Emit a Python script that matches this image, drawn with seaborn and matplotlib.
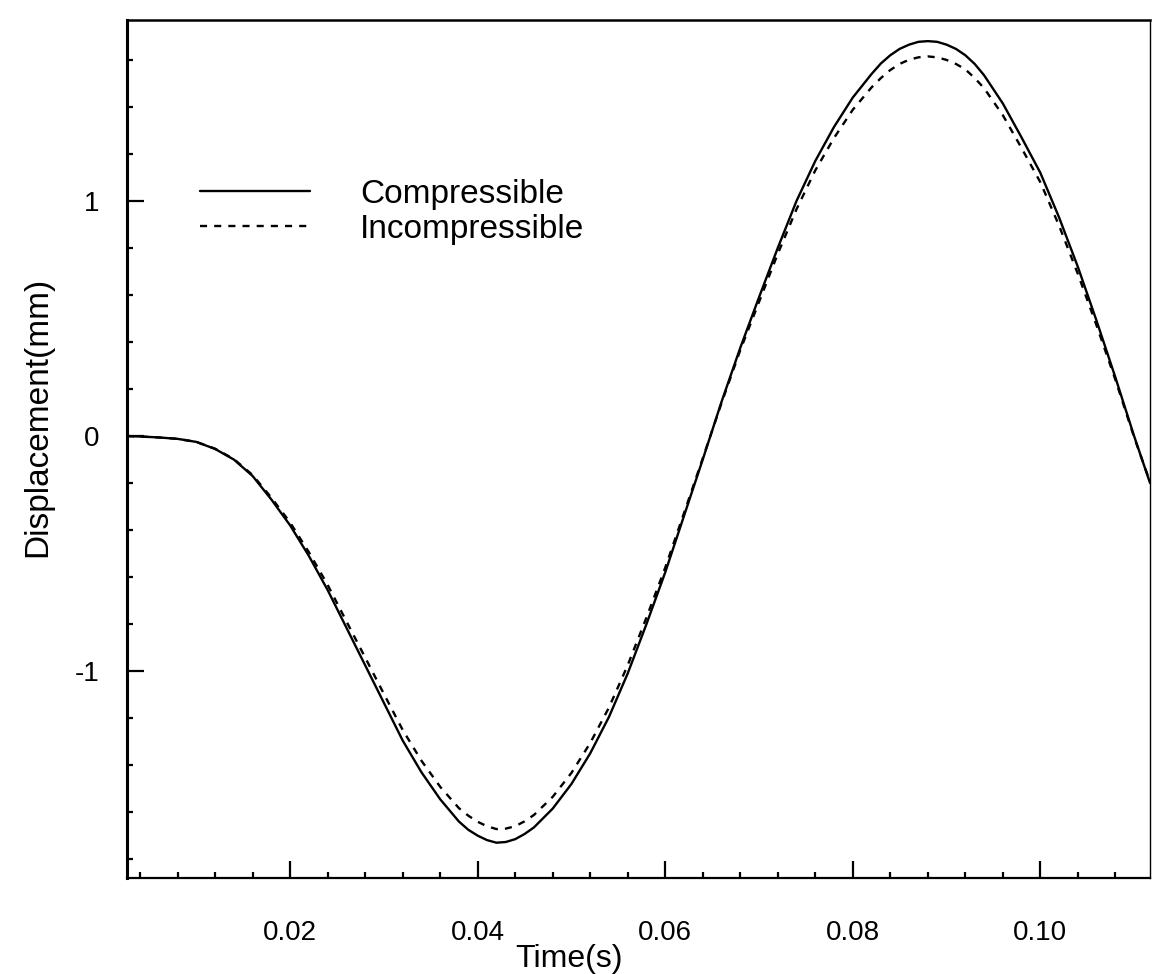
import numpy as np
import pandas as pd
import seaborn as sns
import matplotlib
matplotlib.use("Agg")
import matplotlib.pyplot as plt
from matplotlib.ticker import MultipleLocator, FormatStrFormatter

# tiempos (s)
time_s = [0.0026, 0.004, 0.006, 0.008, 0.010, 0.012, 0.014, 0.016, 0.018, 0.020,
          0.022, 0.024, 0.026, 0.028, 0.030, 0.032, 0.034, 0.036, 0.038, 0.039, 0.040,
          0.041, 0.042, 0.043, 0.044, 0.045, 0.046, 0.048, 0.050, 0.052, 0.054, 0.056, 0.058, 0.060,
          0.062, 0.064, 0.066, 0.068, 0.070, 0.072, 0.074, 0.076, 0.078, 0.080,
          0.082, 0.083, 0.084, 0.085, 0.086, 0.087, 0.088, 0.089, 0.090, 0.091, 0.092, 0.093,
          0.094, 0.096, 0.098, 0.100,
          0.102, 0.104, 0.106, 0.108, 0.110, 0.1117]

# desplazamiento (mm) - compresible
disp_compressible = [0.000, -0.002, -0.006, -0.012, -0.025, -0.055, -0.100, -0.170, -0.270, -0.380,
                     -0.510, -0.655, -0.815, -0.975, -1.135, -1.295, -1.430, -1.545, -1.640, -1.675, -1.700,
                     -1.719, -1.730, -1.727, -1.715, -1.693, -1.665, -1.585, -1.480, -1.350, -1.195, -1.010, -0.800, -0.580,
                     -0.340, -0.100, 0.145, 0.375, 0.590, 0.800, 1.000, 1.170, 1.315, 1.440,
                     1.540, 1.585, 1.620, 1.647, 1.665, 1.677, 1.680, 1.677, 1.665, 1.647, 1.620, 1.583,
                     1.535, 1.415, 1.270, 1.120,
                     0.930, 0.720, 0.490, 0.250, 0.000, -0.200]

# desplazamiento (mm) - incompresible
disp_incompressible = [0.000, -0.002, -0.006, -0.012, -0.025, -0.054, -0.098, -0.166, -0.262, -0.368,
                       -0.494, -0.633, -0.788, -0.942, -1.097, -1.250, -1.381, -1.492, -1.583, -1.615, -1.641,
                       -1.660, -1.672, -1.670, -1.660, -1.639, -1.612, -1.535, -1.433, -1.306, -1.155, -0.975, -0.772, -0.560,
                       -0.328, -0.095, 0.140, 0.365, 0.570, 0.775, 0.965, 1.130, 1.268, 1.388,
                       1.483, 1.523, 1.557, 1.583, 1.601, 1.611, 1.615, 1.611, 1.600, 1.583, 1.560, 1.523,
                       1.480, 1.365, 1.225, 1.080,
                       0.895, 0.690, 0.470, 0.240, -0.005, -0.195]

series_names = ["Compressible", "Incompressible"]
x_ticks = [0.02, 0.04, 0.06, 0.08, 0.10]
y_ticks = [-1, 0, 1]

df = pd.DataFrame({
    "Time": time_s * 2,
    "Disp": disp_compressible + disp_incompressible,
    "Model": [series_names[0]] * len(time_s) + [series_names[1]] * len(time_s),
})

sns.set_style("ticks")
plt.rcParams["font.family"] = ["Liberation Sans", "DejaVu Sans"]
plt.rcParams["axes.unicode_minus"] = False
plt.rcParams["text.color"] = "black"
plt.rcParams["axes.labelcolor"] = "black"
plt.rcParams["xtick.color"] = "black"
plt.rcParams["ytick.color"] = "black"

fig = plt.figure(figsize=(11.52, 9.74), dpi=100)
ax = fig.add_axes([0.1102, 0.0986, 0.8881, 0.8809])

sns.lineplot(data=df, x="Time", y="Disp", hue="Model", style="Model",
             palette={"Compressible": "black", "Incompressible": "black"},
             dashes={"Compressible": "", "Incompressible": (3, 3)},
             linewidth=1.7, ax=ax)

ax.set_xlim(0.0026, 0.1117)
ax.set_ylim(-1.88, 1.77)

ax.set_xticks(x_ticks)
ax.set_yticks(y_ticks)
ax.xaxis.set_major_formatter(FormatStrFormatter("%.2f"))
ax.yaxis.set_major_formatter(FormatStrFormatter("%d"))
ax.xaxis.set_minor_locator(MultipleLocator(0.004))
ax.yaxis.set_minor_locator(MultipleLocator(0.2))

ax.tick_params(which="major", direction="in", length=12, width=1.6, labelsize=20,
               top=False, right=False, colors="black")
ax.tick_params(which="minor", direction="in", length=4, width=1.6, top=False, right=False,
               colors="black")
ax.tick_params(axis="x", which="major", pad=30)
ax.tick_params(axis="y", which="major", pad=20)

for side, lw in [("left", 2.2), ("bottom", 1.6), ("top", 1.8), ("right", 1.0)]:
    ax.spines[side].set_visible(True)
    ax.spines[side].set_linewidth(lw)
    ax.spines[side].set_color("black")

ax.set_xlabel("Time(s)", fontsize=23)
ax.set_ylabel("Displacement(mm)", fontsize=24)
ax.xaxis.set_label_coords(0.432, -0.077)
ax.yaxis.set_label_coords(-0.072, 0.537)

# leyenda sin marco
leg = ax.legend(loc="upper left", bbox_to_anchor=(0.0714, 0.8150), frameon=False,
                fontsize=24, handlelength=3.3, handletextpad=1.5, labelspacing=0.12,
                borderpad=0, borderaxespad=0)
for t in leg.get_texts():
    t.set_color("black")

plt.savefig("out.png", dpi=100)
